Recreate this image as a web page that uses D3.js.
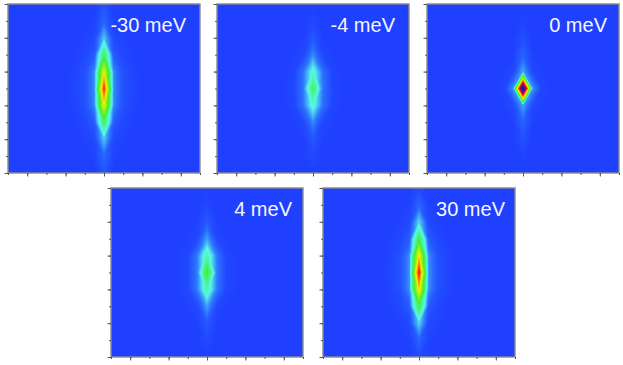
<!DOCTYPE html>
<html>
<head>
<meta charset="utf-8">
<script src="https://cdnjs.cloudflare.com/ajax/libs/d3/7.8.5/d3.min.js"></script>
<style>
  html, body { margin: 0; padding: 0; background: #fff; }
  svg { display: block; }
  text { font-family: "Liberation Sans", Arial, sans-serif; }
</style>
</head>
<body>
<div id="chart"></div>
<script>
const labels = ["-30 meV", "-4 meV", "0 meV", "4 meV", "30 meV"];

// grid columns and rows, everything outside the columns is background
const columns = [-3, -2, -1, 0, 1, 2, 3];
const rows = [5, 4, 3, 2, 1, 0, -1, -2, -3, -4, -5];

const gridMinus30 = [
  [0, 0, 0, .02, 0, 0, 0],
  [0, 0, .003, .04, .003, 0, 0],
  [0, .003, .01, .11, .01, .003, 0],
  [.002, .008, .03, .26, .03, .008, .002],
  [.005, .018, .07, .5, .07, .018, .005],
  [.006, .02, .072, .67, .072, .02, .006],
  [.005, .018, .07, .5, .07, .018, .005],
  [.002, .008, .03, .26, .03, .008, .002],
  [0, .003, .01, .11, .01, .003, 0],
  [0, 0, .003, .045, .003, 0, 0],
  [0, 0, 0, .025, 0, 0, 0]
];
const gridMinus4 = [
  [0, 0, 0, 0, 0, 0, 0],
  [0, 0, 0, .008, 0, 0, 0],
  [0, 0, .002, .025, .002, 0, 0],
  [0, .002, .008, .07, .008, .002, 0],
  [.001, .006, .055, .16, .055, .006, .001],
  [.002, .008, .06, .26, .06, .008, .002],
  [.001, .006, .055, .16, .055, .006, .001],
  [0, .002, .008, .07, .008, .002, 0],
  [0, 0, .002, .025, .002, 0, 0],
  [0, 0, 0, .01, 0, 0, 0],
  [0, 0, 0, 0, 0, 0, 0]
];
const gridZero = [
  [0, 0, 0, 0, 0, 0, 0],
  [0, 0, 0, .005, 0, 0, 0],
  [0, 0, 0, .018, 0, 0, 0],
  [0, 0, .002, .04, .002, 0, 0],
  [0, .002, .01, .09, .01, .002, 0],
  [.001, .005, .08, 1.1, .08, .005, .001],
  [0, .002, .01, .09, .01, .002, 0],
  [0, 0, .002, .04, .002, 0, 0],
  [0, 0, 0, .018, 0, 0, 0],
  [0, 0, 0, .005, 0, 0, 0],
  [0, 0, 0, 0, 0, 0, 0]
];
const gridPlus4 = [
  [0, 0, 0, 0, 0, 0, 0],
  [0, 0, 0, .01, 0, 0, 0],
  [0, 0, .002, .03, .002, 0, 0],
  [0, .002, .01, .085, .01, .002, 0],
  [.002, .008, .062, .19, .062, .008, .002],
  [.003, .01, .065, .31, .065, .01, .003],
  [.002, .008, .062, .19, .062, .008, .002],
  [0, .002, .01, .085, .01, .002, 0],
  [0, 0, .002, .03, .002, 0, 0],
  [0, 0, 0, .012, 0, 0, 0],
  [0, 0, 0, 0, 0, 0, 0]
];
const gridPlus30 = [
  [0, 0, 0, .012, 0, 0, 0],
  [0, 0, .003, .04, .003, 0, 0],
  [0, .003, .01, .12, .01, .003, 0],
  [.002, .008, .032, .28, .032, .008, .002],
  [.005, .018, .072, .53, .072, .018, .005],
  [.006, .02, .075, .7, .075, .02, .006],
  [.005, .018, .072, .53, .072, .018, .005],
  [.002, .008, .032, .28, .032, .008, .002],
  [0, .003, .01, .12, .01, .003, 0],
  [0, 0, .003, .04, .003, 0, 0],
  [0, 0, 0, .012, 0, 0, 0]
];
const grids = [gridMinus30, gridMinus4, gridZero, gridPlus4, gridPlus30];

const xTicks = [-10, -8, -6, -4, -2, 0, 2, 4, 6, 8, 10];
const xTicksMajor = [-8, -4, 0, 4, 8];
const yTicks = [-5, -4, -3, -2, -1, 0, 1, 2, 3, 4, 5];
const yTicksMajor = [-5, -3, -1, 1, 3, 5];

const width = 623, height = 365;
const panelW = 192, panelH = 169;
const panelPos = [[8, 4], [217, 4], [427, 4], [111, 188], [323, 188]];
const labelRight = [178, 178, 180, 181, 182];
const labelBase = 27.5;

const color = d3.scaleLinear()
  .domain([0, .05, .14, .3, .5, .66, .74, .85, 1])
  .range(["#1f40ff", "#2a6cff", "#58f6e8", "#40f030", "#f4f000", "#ff2a00", "#d00040", "#5a10a0", "#2a10a0"])
  .clamp(true);

const x = d3.scaleLinear().domain([-10, 10]).range([0, panelW]);
const y = d3.scaleLinear().domain([-5, 5]).range([panelH, 0]);

function node(grid, col, row) {
  const c = col - columns[0], r = rows[0] - row;
  if (c < 0 || c >= columns.length || r < 0 || r >= rows.length) return 0;
  return grid[r][c];
}

// plane per triangle, each cell split on the diagonal that faces away from the centre node.
// that is what gives the diamond and hexagon outlines instead of round blobs
function valueAt(grid, cx, cy) {
  const sx = cx < 0 ? -1 : 1, sy = cy < 0 ? -1 : 1;
  const ax = Math.abs(cx), ay = Math.abs(cy);
  const c0 = Math.floor(ax), r0 = Math.floor(ay);
  const tc = ax - c0, tr = ay - r0;
  const v00 = node(grid, sx * c0, sy * r0);
  const v10 = node(grid, sx * (c0 + 1), sy * r0);
  const v01 = node(grid, sx * c0, sy * (r0 + 1));
  if (tc + tr <= 1) return v00 + tc * (v10 - v00) + tr * (v01 - v00);
  const v11 = node(grid, sx * (c0 + 1), sy * (r0 + 1));
  return v11 + (1 - tc) * (v01 - v11) + (1 - tr) * (v10 - v11);
}

function heatImage(grid) {
  const canvas = document.createElement("canvas");
  canvas.width = panelW;
  canvas.height = panelH;
  const ctx = canvas.getContext("2d");
  const img = ctx.createImageData(panelW, panelH);
  for (let j = 0; j < panelH; j++) {
    for (let i = 0; i < panelW; i++) {
      const c = d3.rgb(color(valueAt(grid, x.invert(i + .5), y.invert(j + .5))));
      const k = (j * panelW + i) * 4;
      img.data[k] = c.r; img.data[k + 1] = c.g; img.data[k + 2] = c.b; img.data[k + 3] = 255;
    }
  }
  ctx.putImageData(img, 0, 0);
  return canvas.toDataURL();
}

const svg = d3.select("#chart").append("svg")
  .attr("width", width)
  .attr("height", height);

const panels = svg.selectAll("g.panel")
  .data(labels)
  .enter().append("g")
    .attr("class", "panel")
    .attr("transform", (d, i) => `translate(${panelPos[i][0]},${panelPos[i][1]})`);

panels.append("image")
  .attr("width", panelW)
  .attr("height", panelH)
  .attr("href", (d, i) => heatImage(grids[i]));

panels.append("rect")
  .attr("width", panelW)
  .attr("height", panelH)
  .attr("fill", "none")
  .attr("stroke", "#8a8a8a")
  .attr("stroke-width", 1.4);

panels.each(function() {
  const g = d3.select(this);
  const axes = [
    g.append("g").attr("transform", `translate(0,${panelH})`)
      .call(d3.axisBottom(x).tickValues(xTicks).tickSize(2).tickFormat("")),
    g.append("g").attr("transform", `translate(0,${panelH})`)
      .call(d3.axisBottom(x).tickValues(xTicksMajor).tickSize(3.5).tickFormat("")),
    g.append("g")
      .call(d3.axisLeft(y).tickValues(yTicks).tickSize(2).tickFormat("")),
    g.append("g")
      .call(d3.axisLeft(y).tickValues(yTicksMajor).tickSize(3.5).tickFormat(""))
  ];
  axes.forEach(a => {
    a.select(".domain").remove();
    a.selectAll("line").attr("stroke", "#555");
  });
});

panels.append("text")
  .attr("x", (d, i) => labelRight[i])
  .attr("y", labelBase)
  .attr("text-anchor", "end")
  .attr("font-size", 20)
  .attr("fill", "#f4f6ff")
  .text(d => d);
</script>
</body>
</html>
